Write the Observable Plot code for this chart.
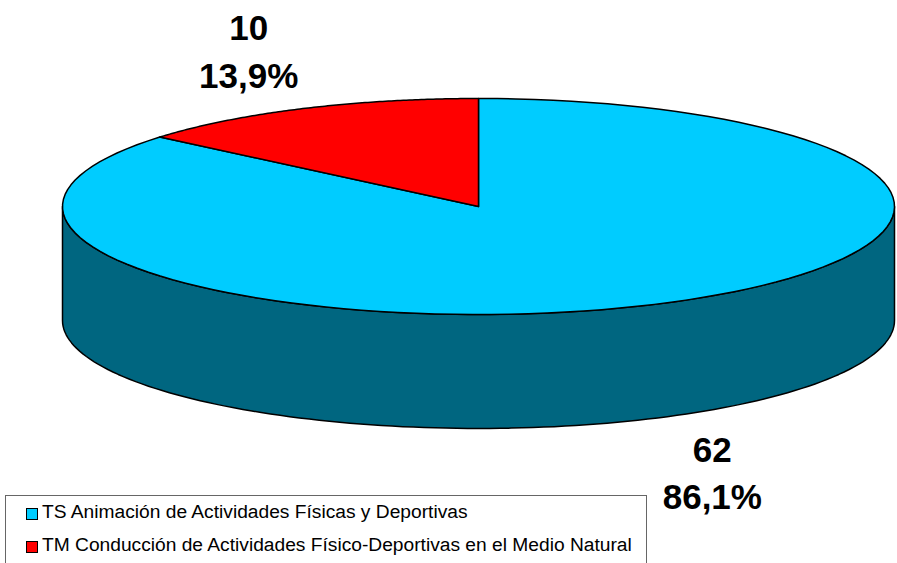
<!DOCTYPE html>
<html><head><meta charset="utf-8">
<script src="https://cdn.jsdelivr.net/npm/d3@7"></script>
<script src="https://cdn.jsdelivr.net/npm/@observablehq/plot@0.6"></script>
<style>
html,body{margin:0;padding:0;background:#fff;overflow:hidden}
#wrap{position:relative;width:897px;height:563px;overflow:hidden;font-family:"Liberation Sans",Arial,sans-serif}
#legend{position:absolute;left:5px;top:495px;width:640px;height:80px;border:1px solid #666;background:#fff;box-sizing:content-box}
.row{position:absolute;left:20px;white-space:nowrap;font-size:19.2px;line-height:20px;color:#000}
.sw{display:inline-block;width:10px;height:10px;border:1px solid #000;margin-right:4px;position:relative;top:2px}
svg{display:block}
</style></head><body><div id="wrap"><div id="chart"></div><div id="legend"></div></div>
<script>
const categories = ["TS Animación de Actividades Físicas y Deportivas", "TM Conducción de Actividades Físico-Deportivas en el Medio Natural"];
const counts = [62, 10];
const shares = ["86,1%", "13,9%"];
const topColors = ["#00CCFF", "#FF0000"];
const wallColor = "#006680";
const wallDepth = 1.055;

const total = d3.sum(counts);
const angles = d3.cumsum([0, ...counts]).map(v => v / total * 2 * Math.PI);
const rim = (a, drop = 0) => ({x: Math.sin(a), y: -Math.cos(a) + drop});
const arc = (a0, a1, drop = 0) => d3.range(0, 121).map(i => rim(a0 + (a1 - a0) * i / 120, drop));

// the side wall: visible front half of the rim, from the right to the left edge
const wall = [...arc(Math.PI / 2, 3 * Math.PI / 2), ...arc(Math.PI / 2, 3 * Math.PI / 2, wallDepth).reverse()];
wall.push(wall[0]);

const slices = counts.map((c, i) => [{x: 0, y: 0}, ...arc(angles[i], angles[i + 1]), {x: 0, y: 0}]);

const labels = counts.map((c, i) => {
  const mid = (angles[i] + angles[i + 1]) / 2;
  return {x: 1.33 * Math.sin(mid), y: -1.32 * Math.cos(mid), count: String(c), share: shares[i], below: Math.cos(mid) < 0};
});
const below = labels.filter(d => d.below);
const above = labels.filter(d => !d.below);

const font = {fontFamily: "Liberation Sans, Arial, sans-serif", fontWeight: "bold", fontSize: 35, fill: "#000", lineAnchor: "middle"};

const plot = Plot.plot({
  width: 897, height: 563,
  margin: 0,
  x: {domain: [-1, 1], range: [62, 894], axis: null},
  y: {domain: [-1, 1], range: [98, 314], axis: null},
  marks: [
    Plot.line(wall, {x: "x", y: "y", fill: wallColor, stroke: "#000", strokeWidth: 1.5, curve: "linear"}),
    ...slices.map((s, i) => Plot.line(s, {x: "x", y: "y", fill: topColors[i], stroke: "#000", strokeWidth: 1.5, curve: "linear"})),
    Plot.text(below, {x: "x", y: "y", text: "count", ...font, dy: 115}),
    Plot.text(below, {x: "x", y: "y", text: "share", ...font, dy: 162}),
    Plot.text(above, {x: "x", y: "y", text: "count", ...font, dx: 4, dy: -48}),
    Plot.text(above, {x: "x", y: "y", text: "share", ...font, dx: 4, dy: 0})
  ]
});
document.getElementById("chart").append(plot);

const legend = document.getElementById("legend");
categories.forEach((c, i) => {
  const row = document.createElement("div");
  row.className = "row";
  row.style.top = (6 + i * 33) + "px";
  const sw = document.createElement("span");
  sw.className = "sw";
  sw.style.background = topColors[i];
  row.append(sw, document.createTextNode(c));
  legend.append(row);
});
</script></body></html>
